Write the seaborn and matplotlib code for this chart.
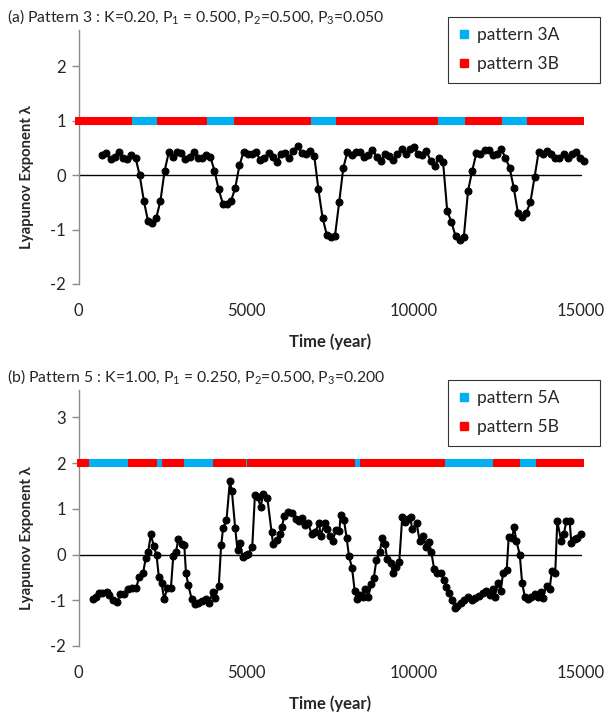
import numpy as np
import pandas as pd
import matplotlib
matplotlib.use("Agg")
import matplotlib.pyplot as plt
import seaborn as sns
from matplotlib.lines import Line2D

sns.set_theme(style="white")
plt.rcParams["font.family"] = ["Lato", "DejaVu Sans"]
plt.rcParams["mathtext.fontset"] = "custom"
plt.rcParams["mathtext.rm"] = "Lato"
plt.rcParams["mathtext.it"] = "Lato"

# ---------------- data: panel (a) ----------------
lyap_a = [0.37, 0.41, 0.29, 0.34, 0.42, 0.31, 0.29, 0.37, 0.32, 0.00, -0.47, -0.84, -0.88, -0.78,
          -0.47, 0.08, 0.42, 0.34, 0.42, 0.40, 0.29, 0.34, 0.43, 0.32, 0.32, 0.37, 0.34, 0.08,
          -0.26, -0.52, -0.52, -0.47, -0.23, 0.18, 0.43, 0.39, 0.39, 0.42,
          0.28, 0.32, 0.40, 0.34, 0.24, 0.39, 0.40, 0.31, 0.45, 0.54, 0.40, 0.39, 0.45, 0.36,
          -0.26, -0.78, -1.09, -1.13, -1.11, -0.50, 0.14, 0.43, 0.37, 0.43, 0.43, 0.34, 0.37,
          0.47, 0.34, 0.26, 0.39, 0.36, 0.28, 0.39, 0.48, 0.39, 0.48, 0.51, 0.39,
          0.37, 0.45, 0.26, 0.17, 0.31, 0.24, -0.66, -0.86, -1.12, -1.20, -1.13, -0.29, 0.08,
          0.40, 0.39, 0.47, 0.47, 0.37, 0.39, 0.48, 0.32, 0.14, -0.23, -0.69, -0.76, -0.69,
          -0.50, -0.04, 0.43, 0.39, 0.45, 0.39, 0.32, 0.32, 0.39, 0.31, 0.39, 0.43, 0.32, 0.27]
time_a_start, time_a_end = 710, 15110
time_a = np.linspace(time_a_start, time_a_end, len(lyap_a))

seg_a_bounds = [-100, 1600, 2350, 3850, 4650, 6950, 7700, 10750, 11550, 12650, 13400, 15100]
seg_a_kind = ["B", "A", "B", "A", "B", "A", "B", "A", "B", "A", "B"]

# ---------------- data: panel (b) ----------------
time_b = [440, 520, 610, 710, 840, 920, 1020, 1160, 1240, 1360, 1490, 1610, 1720, 1810, 1930,
          2010, 2080, 2160, 2250, 2330, 2400, 2480, 2560, 2650, 2760, 2830, 2910, 2980, 3080,
          3160, 3210, 3280, 3380, 3480, 3580, 3680, 3800, 3900, 4010, 4080, 4190, 4260, 4320,
          4420, 4520, 4580, 4680, 4750, 4830, 4900, 4990, 5070, 5190, 5270, 5350, 5440, 5520,
          5640, 5770, 5810, 5930, 6010, 6080, 6140, 6260, 6390, 6510, 6590, 6690, 6760, 6860,
          6960, 7060, 7190, 7230, 7360, 7430, 7510, 7590, 7690, 7790, 7830, 7930, 8010, 8080,
          8170, 8250, 8320, 8400, 8500, 8570, 8650, 8750, 8820, 8900, 9000, 9070, 9150, 9220,
          9320, 9400, 9470, 9580, 9670, 9750, 9840, 9920, 9960, 10100, 10190, 10290, 10390,
          10470, 10540, 10620, 10720, 10820, 10920, 10990, 11060, 11160, 11240, 11320, 11420,
          11520, 11620, 11740, 11840, 11950, 12080, 12180, 12280, 12380, 12430, 12530, 12610,
          12680, 12790, 12850, 12950, 13010, 13080, 13180, 13250, 13330, 13430, 13530, 13630,
          13710, 13810, 13870, 13980, 14070, 14140, 14240, 14300, 14420, 14500, 14570, 14670,
          14720, 14820, 14890, 15000]
lyap_b = [-0.98, -0.92, -0.85, -0.85, -0.82, -0.89, -1.00, -1.04, -0.87, -0.87, -0.76, -0.74,
          -0.74, -0.49, -0.40, -0.07, 0.05, 0.44, 0.18, -0.01, -0.49, -0.62, -0.98, -0.73,
          -0.73, -0.04, 0.05, 0.33, 0.24, 0.20, -0.40, -0.67, -0.97, -1.09, -1.07, -1.02,
          -0.98, -1.05, -0.82, -0.94, -0.69, 0.20, 0.58, 0.75, 1.60, 1.40, 0.58, 0.09, 0.25,
          -0.06, -0.02, 0.01, 0.17, 1.31, 1.26, 1.05, 1.32, 1.24, 0.49, 0.24, 0.31, 0.46, 0.60,
          0.85, 0.94, 0.91, 0.78, 0.73, 0.80, 0.65, 0.68, 0.46, 0.49, 0.68, 0.41, 0.69, 0.56,
          0.40, 0.29, 0.54, 0.51, 0.87, 0.75, 0.36, -0.04, -0.29, -0.80, -0.97, -0.89, -0.92,
          -0.75, -0.92, -0.65, -0.51, -0.11, 0.05, 0.36, 0.23, -0.09, -0.18, -0.41, -0.27,
          -0.17, 0.83, 0.71, 0.78, 0.82, 0.56, 0.69, 0.29, 0.41, 0.17, 0.27, 0.05, -0.31, -0.41,
          -0.40, -0.56, -0.70, -0.83, -1.00, -1.16, -1.13, -1.05, -1.00, -0.92, -1.00, -0.94,
          -0.91, -0.83, -0.80, -0.89, -0.76, -0.92, -0.63, -0.80, -0.41, -0.34, 0.39, 0.36,
          0.60, 0.29, 0.00, -0.62, -0.92, -0.97, -0.92, -0.87, -0.92, -0.82, -0.94, -0.68,
          -0.76, -0.36, -0.40, 0.73, 0.29, 0.46, 0.73, 0.73, 0.25, 0.33, 0.36, 0.46]

seg_b_bounds = [-30, 300, 1480, 2340, 2480, 3150, 4020, 4990, 5040, 8250, 8400, 10940, 12370,
                13180, 13660, 15100]
seg_b_kind = ["B", "A", "B", "A", "B", "A", "B", "A", "B", "A", "B", "A", "B", "A", "B"]

titles = [r"(a) Pattern 3 : K=0.20, P$_1$ = 0.500, P$_2$=0.500, P$_3$=0.050",
          r"(b) Pattern 5 : K=1.00, P$_1$ = 0.250, P$_2$=0.500, P$_3$=0.200"]
legend_labels = [["pattern 3A", "pattern 3B"], ["pattern 5A", "pattern 5B"]]
bar_levels = [1, 2]
yticks = [[-2, -1, 0, 1, 2], [-2, -1, 0, 1, 2, 3]]
ylims = [(-2, 2.67), (-2, 3.6)]
xticks = [0, 5000, 10000, 15000]

BLUE = "#00B0F0"
RED = "#FF0000"

W, H = 610, 717
fig = plt.figure(figsize=(W / 100, H / 100), dpi=100)

# axes geometry in pixels: (left, right, top, bottom)
geoms = [(78.5, 580.7, 30, 284), (78.5, 580.7, 390, 646)]
title_y = [17, 377]
legend_top = [17, 380]

datasets = [(time_a, lyap_a, seg_a_bounds, seg_a_kind), (time_b, lyap_b, seg_b_bounds, seg_b_kind)]

for i, (t, v, bounds, kinds) in enumerate(datasets):
    l, r, tp, bt = geoms[i]
    ax = fig.add_axes([l / W, 1 - bt / H, (r - l) / W, (bt - tp) / H])
    ax.set_facecolor("none")

    # pattern bar
    for k in range(len(kinds)):
        ax.hlines(bar_levels[i], bounds[k], bounds[k + 1],
                  colors=BLUE if kinds[k] == "A" else RED, linewidth=5.8,
                  capstyle="butt", clip_on=False, zorder=3)

    ax.axhline(0, color="black", linewidth=1.0, zorder=1)

    df = pd.DataFrame({"time": t, "lyap": v})
    sns.lineplot(data=df, x="time", y="lyap", ax=ax, color="black", linewidth=1.5,
                 marker="o", markersize=5, markeredgecolor="black", markerfacecolor="black",
                 estimator=None, sort=False, zorder=4)
    for line in ax.lines:
        line.set_clip_on(False)

    ax.set_xlim(0, 15000)
    ax.set_ylim(*ylims[i])
    ax.set_xticks(xticks)
    ax.set_xticklabels([str(x) for x in xticks])
    ax.set_yticks(yticks[i])
    ax.set_yticklabels([str(y) for y in yticks[i]])

    for s in ["top", "right", "bottom"]:
        ax.spines[s].set_visible(False)
    ax.spines["left"].set_color("#8c8c8c")
    ax.spines["left"].set_linewidth(1.0)

    ax.tick_params(axis="y", direction="out", length=5, width=1, color="#8c8c8c",
                   labelsize=12, pad=4, left=True)
    ax.tick_params(axis="x", length=0, labelsize=12, pad=14)

    ax.set_xlabel("Time (year)", fontsize=12, fontweight="bold")
    ax.xaxis.set_label_coords(0.5, -(333 - 284) / 254)
    ax.set_ylabel("Lyapunov Exponent λ", fontsize=10.7, fontweight="bold")
    ax.yaxis.set_label_coords((34 - 78.5) / (r - l), 0.42)

    fig.text(7 / W, 1 - title_y[i] / H, titles[i], ha="left", va="center", fontsize=11.3)

    handles = [Line2D([], [], linestyle="none", marker="s", markersize=5.5, color=BLUE),
               Line2D([], [], linestyle="none", marker="s", markersize=5.5, color=RED)]
    leg = ax.legend(handles, legend_labels[i], loc="upper left",
                    bbox_to_anchor=(448 / W, 1 - legend_top[i] / H, 152 / W, 0.0),
                    mode="expand",
                    bbox_transform=fig.transFigure, frameon=True, fancybox=False,
                    fontsize=12.5, handletextpad=0.35, handlelength=0.7,
                    borderpad=0.6, labelspacing=0.75, borderaxespad=0)
    leg.get_frame().set_edgecolor("black")
    leg.get_frame().set_linewidth(0.8)

fig.savefig("out.png", dpi=100)
